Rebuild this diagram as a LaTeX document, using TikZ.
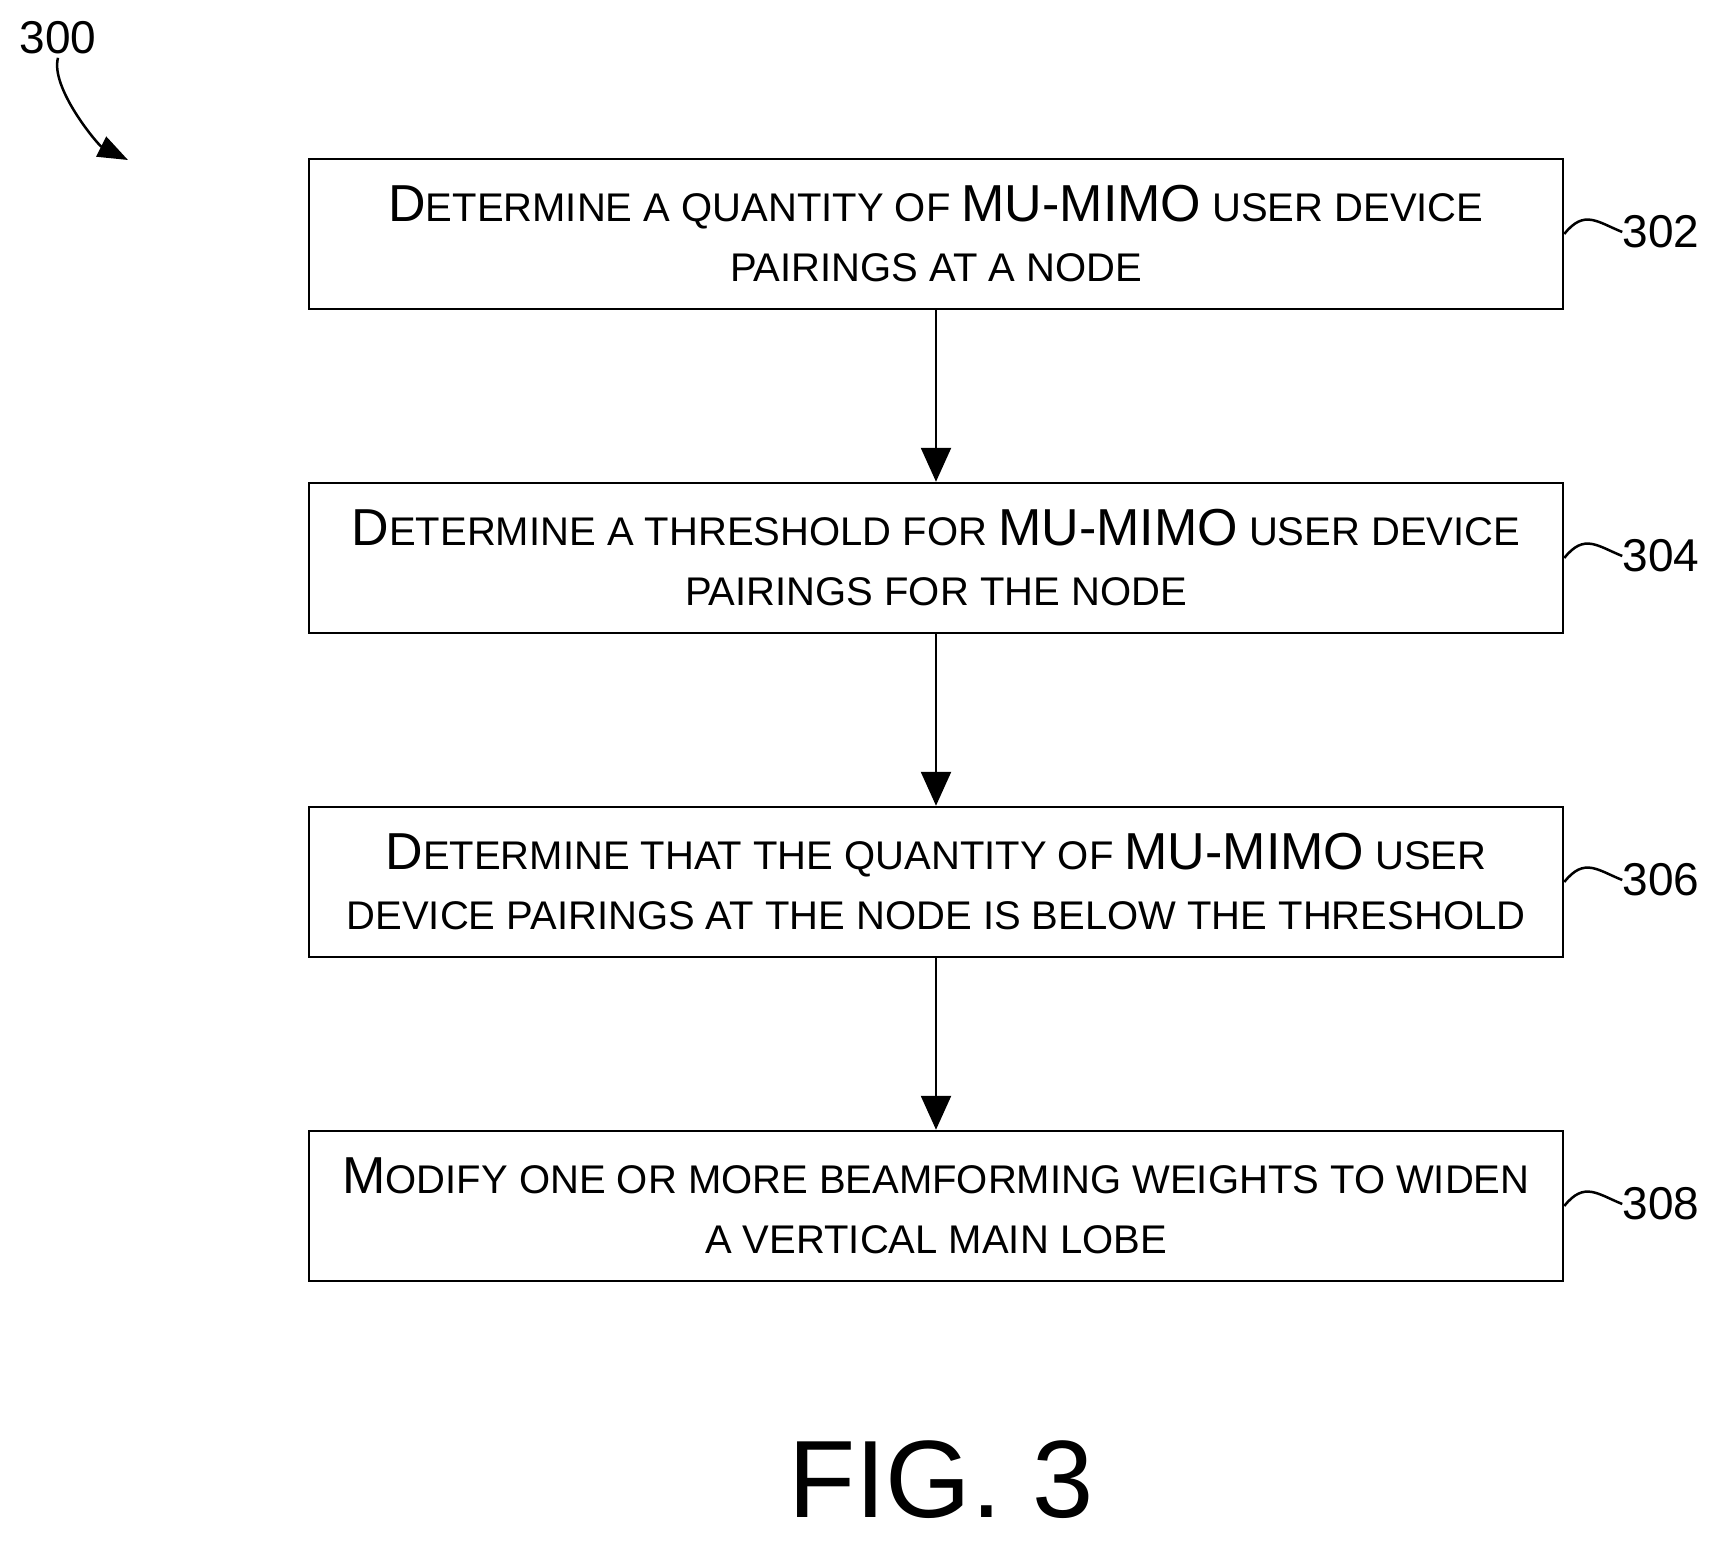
\documentclass[tikz,border=0pt]{standalone}
\usepackage{fontspec}
\setmainfont{Liberation Sans}
\usetikzlibrary{arrows.meta}
\newcommand{\B}[1]{{\fontsize{52}{60}\selectfont #1}}
\newcommand{\Sm}[1]{{\fontsize{40}{60}\selectfont #1}}
\begin{document}
\begin{tikzpicture}[x=1pt,y=-1pt,
  box/.style={draw,line width=2.5pt,minimum width=1254pt,minimum height=150pt,align=center,inner sep=0pt,font=\fontsize{40}{60}\selectfont},
  arr/.style={line width=2.5pt,-{Triangle[length=34pt,width=30pt]}},
  lab/.style={font=\fontsize{46}{50}\selectfont,anchor=west,inner sep=0pt}]
\useasboundingbox (0,0) rectangle (1719,1546);
\node[box] (b1) at (936,234) {\B{D}\Sm{ETERMINE A QUANTITY OF }\B{MU-MIMO}\Sm{ USER DEVICE}\\\Sm{PAIRINGS AT A NODE}};
\node[box] (b2) at (936,558) {\B{D}\Sm{ETERMINE A THRESHOLD FOR }\B{MU-MIMO}\Sm{ USER DEVICE}\\\Sm{PAIRINGS FOR THE NODE}};
\node[box] (b3) at (936,882) {\B{D}\Sm{ETERMINE THAT THE QUANTITY OF }\B{MU-MIMO}\Sm{ USER}\\\Sm{DEVICE PAIRINGS AT THE NODE IS BELOW THE THRESHOLD}};
\node[box] (b4) at (936,1206) {\B{M}\Sm{ODIFY ONE OR MORE BEAMFORMING WEIGHTS TO WIDEN}\\\Sm{A VERTICAL MAIN LOBE}};
\draw[arr] (b1) -- (b2);
\draw[arr] (b2) -- (b3);
\draw[arr] (b3) -- (b4);
\foreach \b/\t in {b1/302,b2/304,b3/306,b4/308}{
  \node[lab] (l\t) at ([xshift=58pt,yshift=2pt]\b.east) {\t};
  \draw[line width=2.5pt] (\b.east) .. controls +(20,-25) and +(-25,-10) .. (l\t.west);
}
\node[font=\fontsize{46}{50}\selectfont] (n300) at (58,38) {300};
\coordinate (a300) at (128,160);
\draw[line width=2.5pt,-{Triangle[length=30pt,width=22pt]}] (n300.south) .. controls +(-8,30) and +(-30,-15) .. (a300);
\node[font=\fontsize{110}{110}\selectfont] (fig) at (941,1480) {FIG. 3};
\end{tikzpicture}
\end{document}
